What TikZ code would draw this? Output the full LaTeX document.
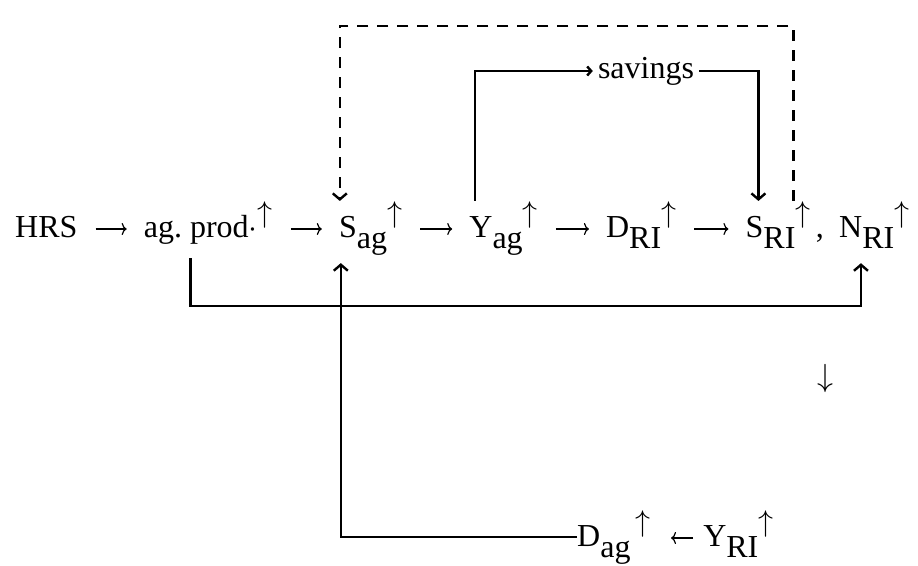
\documentclass[tikz,border=0pt]{standalone}
\usepackage{graphicx}
\usepackage{fontspec}
\setmainfont{Liberation Serif}
\usetikzlibrary{positioning, arrows.meta}
\newcommand{\lo}[1]{\raisebox{-11pt}{#1}}
\newcommand{\bigsym}[2][3.2]{{\normalsize\scalebox{#1}{$#2$}}}
\newcommand{\up}{\raisebox{15pt}{\bigsym[3.0]{\uparrow}}}
\tikzset{
  % items of the chain
  term/.style={inner sep=0pt, font=\fontsize{32pt}{38pt}\selectfont},
  % short arrows inside a row
  rowarr/.style={-{To[length=5pt,width=12pt]}, line width=1.2pt,
    shorten <=18pt, shorten >=17pt},
  % long lines round the chain
  flow/.style={-{Straight Barb[length=6pt,width=14pt]}, line width=2.4pt},
  dashflow/.style={flow, dash pattern=on 11pt off 9pt},
}
\begin{document}
\begin{tikzpicture}[x=1pt, y=-1pt, node distance=66pt]
  \useasboundingbox (0,0) rectangle (918,565);
  % upper chain
  \node[term, anchor=base west] (hrs) at (15,237) {HRS};
  \node[term, base right=of hrs] (agp) {ag.\ prod\bigsym{\cdot}\up};
  \node[term, base right=of agp] (sag) {S\lo{ag}\up};
  \node[term, base right=67pt of sag] (yag) {Y\lo{ag}\up};
  \node[term, base right=68pt of yag] (dri) {D\lo{RI}\up};
  \node[term, base right=69pt of dri] (sri) {S\lo{RI}\up\,,};
  \node[term, base right=15pt of sri] (nri) {N\lo{RI}\up};
  \node[term, inner xsep=5pt] (sav) at (646,71) {savings};
  % lower chain
  \node[term] (down) at (825,378) {\bigsym{\downarrow}};
  \node[term, anchor=base west] (dag) at (577,546) {D\lo{ag}\,\up};
  \node[term, base right=52pt of dag] (yri) {Y\lo{RI}\up};

  \draw[rowarr] ([yshift=8pt]hrs.base east) -- ([yshift=8pt]agp.base west);
  \draw[rowarr] ([yshift=8pt]agp.base east) -- ([yshift=8pt]sag.base west);
  \draw[rowarr] ([yshift=8pt]sag.base east) -- ([yshift=8pt]yag.base west);
  \draw[rowarr] ([yshift=8pt]yag.base east) -- ([yshift=8pt]dri.base west);
  \draw[rowarr] ([yshift=8pt]dri.base east) -- ([yshift=8pt]sri.base west);
  \draw[rowarr, shorten <=10pt, shorten >=20pt]
    ([yshift=8pt]yri.base west) -- ([yshift=8pt]dag.base east);

  % savings loop
  \draw[flow, -{Straight Barb[length=4pt,width=9pt]}]
    ([xshift=6pt]yag.north west) |- (sav.west);
  \draw[flow] (sav.east) -| ([xshift=13pt]sri.north west);
  % dashed feedback
  \draw[dashflow] ([xshift=48pt]sri.north west) -- ++(0,-175)
    -| ([xshift=1pt]sag.north west);
  % lines below the chain
  \draw[flow] ([xshift=47pt,yshift=-14pt]agp.south west) -- ++(0,48)
    -| ([xshift=22pt,yshift=-15pt]nri.south west);
  \draw[flow] (dag.west) -| ([xshift=2pt,yshift=-8pt]sag.south west);
\end{tikzpicture}
\end{document}
